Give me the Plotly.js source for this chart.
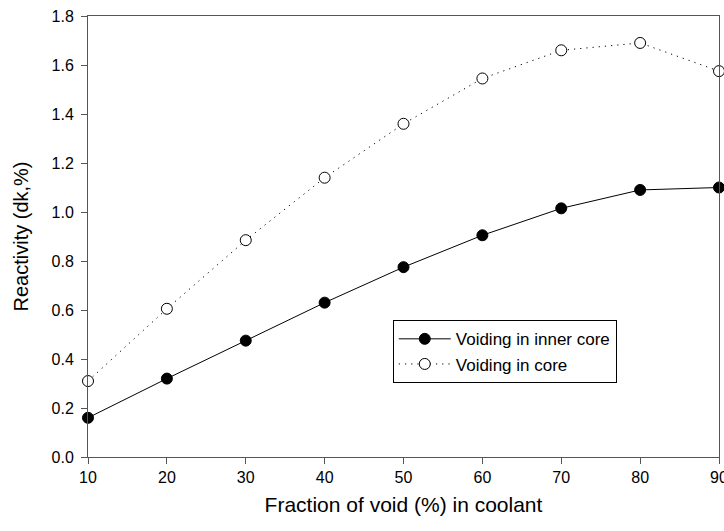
<!DOCTYPE html>
<html>
<head>
<meta charset="utf-8">
<script src="https://cdn.plot.ly/plotly-3.0.1.min.js"></script>
<style>html,body{margin:0;padding:0;background:#fff;}#chart{width:724px;height:531px;}</style>
</head>
<body>
<div id="chart"></div>
<script>
var voidFraction = [10, 20, 30, 40, 50, 60, 70, 80, 90];
var innerCore = [0.16, 0.32, 0.475, 0.63, 0.775, 0.905, 1.015, 1.09, 1.10];
var wholeCore = [0.31, 0.605, 0.885, 1.14, 1.36, 1.545, 1.66, 1.69, 1.575];
var seriesNames = ['Voiding in inner core', 'Voiding in core'];
var xTicks = [10, 20, 30, 40, 50, 60, 70, 80, 90];
var yTicks = [0.0, 0.2, 0.4, 0.6, 0.8, 1.0, 1.2, 1.4, 1.6, 1.8];

var traces = [
  {
    x: voidFraction, y: innerCore, name: seriesNames[0],
    mode: 'lines+markers', cliponaxis: false,
    line: {color: '#000', width: 1},
    marker: {symbol: 'circle', size: 11, color: '#000', line: {color: '#000', width: 1}}
  },
  {
    x: voidFraction, y: wholeCore, name: seriesNames[1],
    mode: 'lines+markers', cliponaxis: false,
    line: {color: '#000', width: 1, dash: '1.2px,5px'},
    marker: {symbol: 'circle', size: 11, color: '#fff', line: {color: '#000', width: 1}}
  }
];

var layout = {
  width: 724, height: 531,
  margin: {l: 88, r: 5, t: 16, b: 74},
  paper_bgcolor: '#fff', plot_bgcolor: '#fff',
  font: {family: 'Liberation Sans, Arial, sans-serif', color: '#000', size: 16},
  showlegend: true,
  legend: {
    x: 0.483, y: 0.31, xanchor: 'left', yanchor: 'top',
    bordercolor: '#000', borderwidth: 1, bgcolor: '#fff',
    font: {size: 17}, tracegroupgap: 0, itemwidth: 52
  },
  xaxis: {
    range: [10, 90], tickvals: xTicks, ticktext: xTicks.map(String),
    showgrid: false, zeroline: false,
    showline: true, linecolor: '#555', linewidth: 1, mirror: true,
    ticks: 'outside', ticklen: 6, tickcolor: '#555',
    ticklabeloverflow: 'allow', tickfont: {size: 16},
    title: {text: 'Fraction of void (%) in coolant', font: {size: 21}, standoff: 12}
  },
  yaxis: {
    range: [0, 1.8], tickvals: yTicks, ticktext: yTicks.map(function(v){return v.toFixed(1);}),
    showgrid: false, zeroline: false,
    showline: true, linecolor: '#555', linewidth: 1, mirror: true,
    ticks: 'outside', ticklen: 6, tickcolor: '#555', ticklabelstandoff: 4,
    tickfont: {size: 16},
    title: {text: 'Reactivity (dk,%)', font: {size: 20}, standoff: 17}
  }
};

Plotly.newPlot('chart', traces, layout, {displayModeBar: false, staticPlot: true});
</script>
</body>
</html>
